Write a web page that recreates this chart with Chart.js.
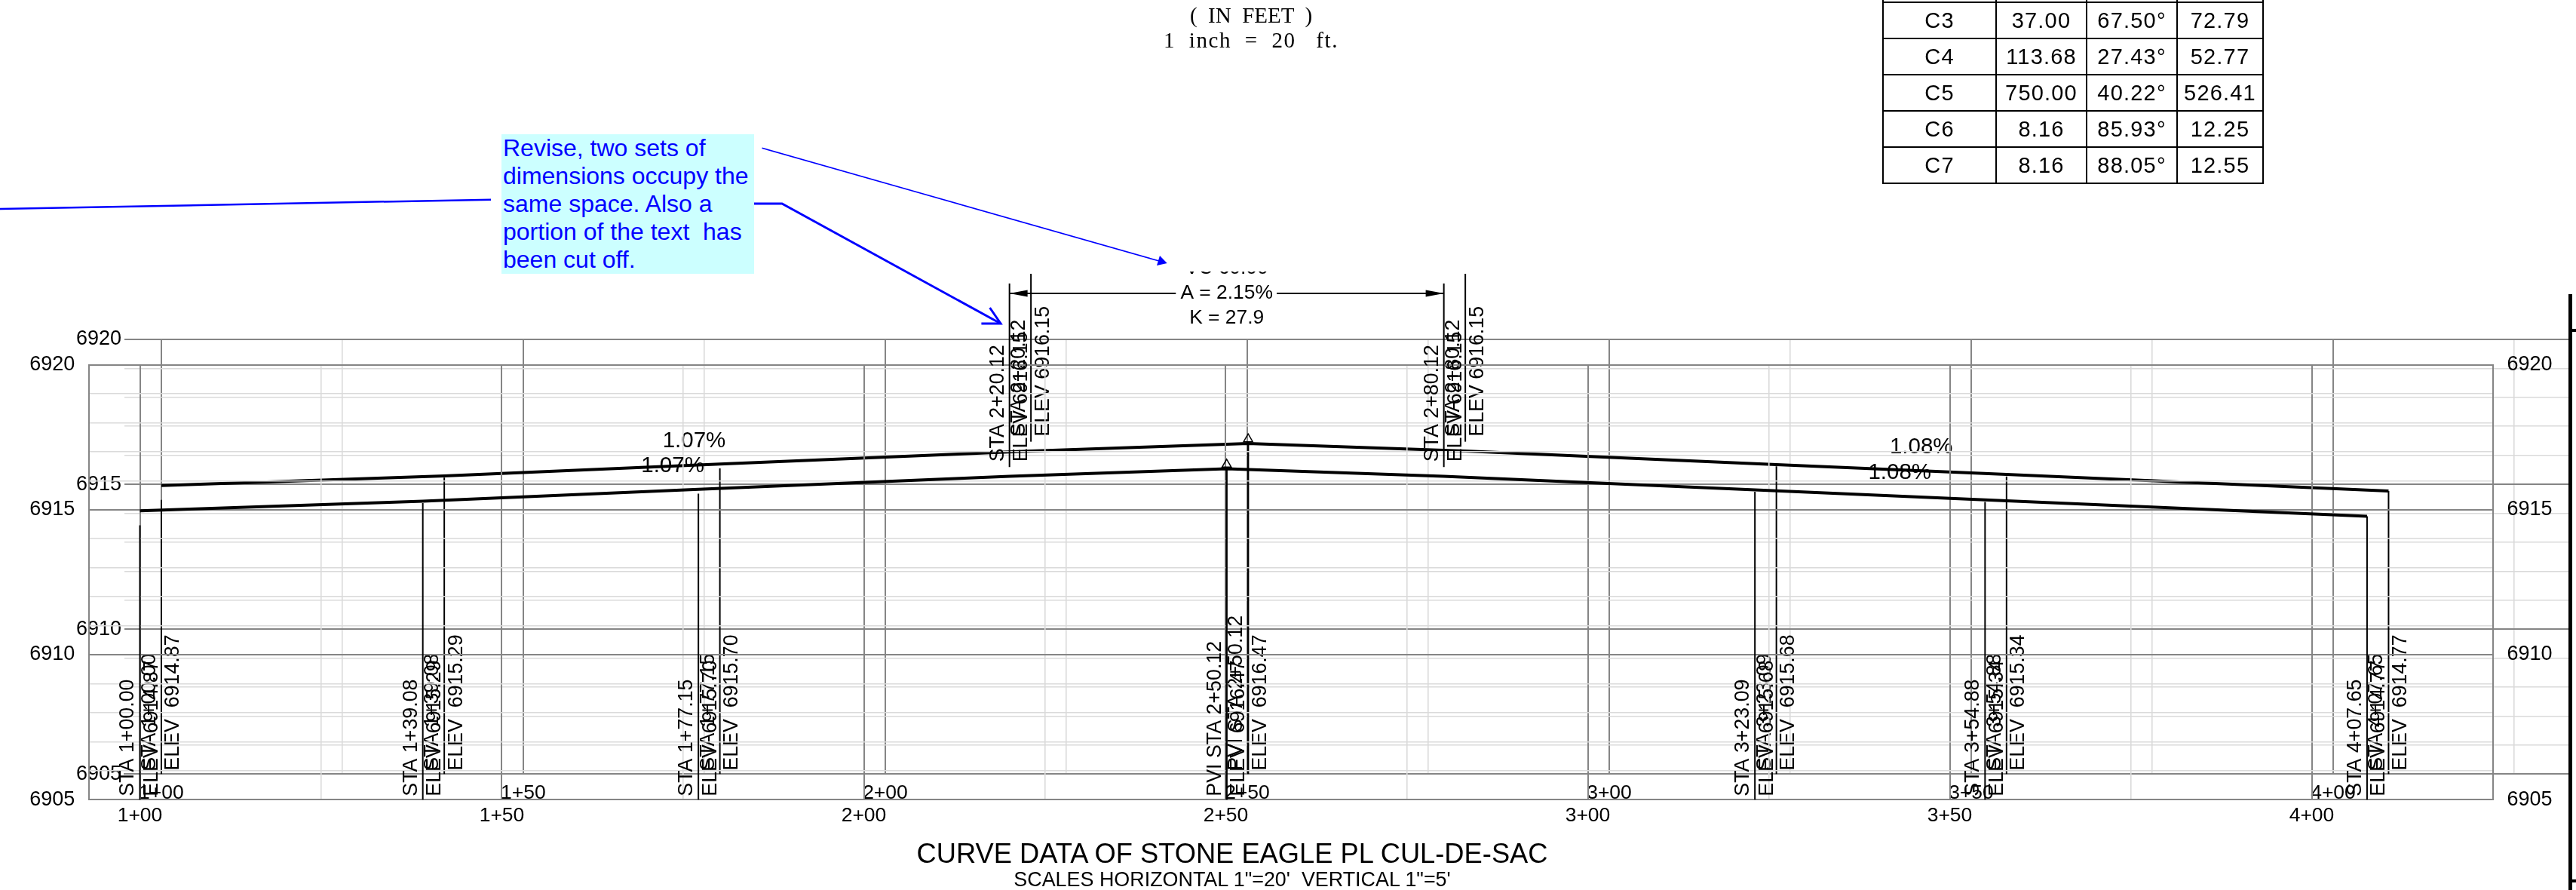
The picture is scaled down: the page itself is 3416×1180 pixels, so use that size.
<!DOCTYPE html>
<html>
<head>
<meta charset="utf-8">
<title>Curve data of Stone Eagle Pl Cul-de-sac</title>
<script src="https://cdn.jsdelivr.net/npm/chart.js@4/dist/chart.umd.min.js"></script>
<style>
    html, body { margin: 0; padding: 0; background: #fff; }
    body { position: relative; width: 3416px; height: 1180px; overflow: hidden; font-family: "Liberation Sans", Arial, sans-serif; color: #000; }
    canvas { position: absolute; left: 0; top: 0; }
    .scale-note { position: absolute; left: 1459px; width: 400px; text-align: center; font-family: "Liberation Serif", serif; font-size: 29px; white-space: pre; line-height: 30px; }
    .title { position: absolute; left: 1134px; width: 1000px; text-align: center; white-space: pre; }
    #callout { position: absolute; left: 665px; top: 178px; width: 333px; height: 185px; padding-left: 2px; background: #ccffff; color: #0000ff; font-size: 32px; line-height: 37px; white-space: pre; }
    #curveTable { position: absolute; left: 2496px; top: -46px; width: 504px; border-collapse: collapse; table-layout: fixed; font-size: 29px; letter-spacing: 1.2px; }
    #curveTable td { border: 2px solid #000; text-align: center; height: 46px; padding: 0; }
    #sheetEdge { position: absolute; left: 3406px; top: 390px; width: 5px; height: 790px; background: #000; }
    .edge-tick { position: absolute; left: 3411px; width: 5px; height: 4px; background: #000; }
    #markup { position: absolute; left: 0; top: 0; }
</style>
</head>
<body>
<canvas id="backChart" width="3416" height="1180"></canvas>
<canvas id="frontChart" width="3416" height="1180"></canvas>

<div class="scale-note" style="top:5px">(  IN  FEET  )</div>
<div class="scale-note" style="top:38px;letter-spacing:1.6px">1  inch  =  20   ft.</div>
<table id="curveTable"></table>
<div id="callout"></div>
<div class="title" style="top:1111px;font-size:36.3px;line-height:42px" id="mainTitle"></div>
<div class="title" style="top:1151px;font-size:26.9px;line-height:30px" id="subTitle"></div>
<div id="sheetEdge"></div>
<div class="edge-tick" style="top:436px"></div>
<div class="edge-tick" style="top:1166px"></div>

<!-- review markup, not part of the drawing data -->
<svg id="markup" width="3416" height="1180" fill="none" stroke="#0000ff">
    <line x1="0" y1="277" x2="651" y2="264.7" stroke-width="2.5"/>
    <polyline points="1000,270 1037,270 1327,429" stroke-width="3"/>
    <polyline points="1312.6,408 1327,429 1301.4,429" stroke-width="3"/>
    <line x1="1010.5" y1="196.3" x2="1537" y2="346" stroke-width="1.6"/>
    <polygon points="1547.7,349 1538,339 1534,352" fill="#0000ff" stroke="none"/>
</svg>

<script>
// profile data
const stations = [100.00, 139.08, 177.15, 220.12, 250.12, 280.12, 323.09, 354.88, 407.65];
const profileElev = [6914.96, 6915.29, 6915.70, 6916.15, 6916.41, 6916.15, 6915.68, 6915.34, 6914.77];
const staLabels = ['STA 1+00.00', 'STA 1+39.08', 'STA 1+77.15', 'STA 2+20.12', 'PVI STA 2+50.12', 'STA 2+80.12', 'STA 3+23.09', 'STA 3+54.88', 'STA 4+07.65'];
const elevLabels = ['ELEV  6914.87', 'ELEV  6915.29', 'ELEV  6915.70', 'ELEV 6916.15', 'ELEV  6916.47', 'ELEV 6916.15', 'ELEV  6915.68', 'ELEV  6915.34', 'ELEV  6914.77'];

// leaders run from leaderFrom to leaderTo (elevations), labels start at labelBase
const leaderFrom = [6905, 6905, 6905, 6916.47, 6905, 6916.47, 6905, 6905, 6905];
const leaderTo = [6914.46, 6915.23, 6915.55, 6922.80, 6916.41, 6922.80, 6915.62, 6915.27, 6914.77];
const labelBase = [6905.12, 6905.12, 6905.12, 6916.65, 6905.12, 6916.65, 6905.12, 6905.12, 6905.12];

// grades
const gradeText = ['1.07%', '1.08%'];
const gradeStation = [173.6, 343.1];
const gradeElev = [6916.50, 6916.28];

// vertical curve dimension
const curveText = ['VC 60.00', 'A = 2.15%', 'K = 27.9'];
const curveElev = [6923.32, 6922.46, 6921.61];
const dimStations = [220.12, 243.1, null, 257.04, 280.12];
const pviStation = 250.12;
const pviMarkElev = 6916.56;

// axes
const xTickValues = [100, 125, 150, 175, 200, 225, 250, 275, 300, 325, 350, 375, 400, 425];
const xTickText = ['1+00', '', '1+50', '', '2+00', '', '2+50', '', '3+00', '', '3+50', '', '4+00', ''];

// curve table (rows C1, C2 are off the sheet)
const tableNames = ['C3', 'C4', 'C5', 'C6', 'C7'];
const tableRadius = ['37.00', '113.68', '750.00', '8.16', '8.16'];
const tableDelta = ['67.50°', '27.43°', '40.22°', '85.93°', '88.05°'];
const tableLength = ['72.79', '52.77', '526.41', '12.25', '12.55'];

const calloutLines = ['Revise, two sets of', 'dimensions occupy the', 'same space. Also a', 'portion of the text  has', 'been cut off.'];

const GRID_MAJOR = '#858585';
const GRID_MINOR = '#dadada';
const CLIP_TOP_Y = 363; // leaders above this line are cut off in the drawing
const TEXT_CLIP_Y = 360; // and so is the VC text

// fill the html parts
document.getElementById('callout').textContent = calloutLines.join('\n');
document.getElementById('mainTitle').textContent = 'CURVE DATA OF STONE EAGLE PL CUL-DE-SAC';
document.getElementById('subTitle').textContent = 'SCALES HORIZONTAL 1"=20\'  VERTICAL 1"=5\'';

let tableHtml = '<colgroup><col style="width:150px"><col style="width:120px"><col style="width:120px"><col style="width:114px"></colgroup>';
tableHtml += '<tr><td></td><td></td><td></td><td></td></tr>';
tableNames.forEach((name, i) => {
    tableHtml += `<tr><td>${name}</td><td>${tableRadius[i]}</td><td>${tableDelta[i]}</td><td>${tableLength[i]}</td></tr>`;
});
document.getElementById('curveTable').innerHTML = tableHtml;

// texts and arrow heads that sit on the profile, placed through the chart scales
const profileLabels = {
    id: 'profileLabels',
    afterDatasetsDraw(chart, args, opts) {
        const ctx = chart.ctx;
        const xs = chart.scales.x;
        const ys = chart.scales.y;
        ctx.save();
        ctx.fillStyle = '#000';

        // station and elevation text, turned 90 degrees
        ctx.font = '26.8px "Liberation Sans"';
        ctx.textAlign = 'left';
        ctx.textBaseline = 'middle';
        stations.forEach((sta, i) => {
            const px = xs.getPixelForValue(sta);
            const py = ys.getPixelForValue(labelBase[i]);
            [[staLabels[i], -15.5], [elevLabels[i], 16]].forEach(([text, dx]) => {
                ctx.save();
                ctx.translate(px + dx, py);
                ctx.rotate(-Math.PI / 2);
                ctx.fillText(text, 0, 0);
                ctx.restore();
            });
        });

        // grades
        ctx.font = '29.5px "Liberation Sans"';
        ctx.textAlign = 'center';
        gradeText.forEach((text, i) => {
            ctx.fillText(text, xs.getPixelForValue(gradeStation[i]), ys.getPixelForValue(gradeElev[i]));
        });

        // curve dimension text and arrows only on the front copy
        if (opts.showCurve) {
            ctx.save();
            ctx.beginPath();
            ctx.rect(0, TEXT_CLIP_Y, chart.width, chart.height);
            ctx.clip();
            ctx.font = '26.4px "Liberation Sans"';
            curveText.forEach((text, i) => {
                ctx.fillText(text, xs.getPixelForValue(pviStation), ys.getPixelForValue(curveElev[i]));
            });
            ctx.restore();

            const dimY = ys.getPixelForValue(curveElev[1]);
            const ends = [[dimStations[0], 24], [dimStations[4], -24]];
            ends.forEach(([sta, len]) => {
                const px = xs.getPixelForValue(sta);
                ctx.beginPath();
                ctx.moveTo(px, dimY);
                ctx.lineTo(px + len, dimY - 4.5);
                ctx.lineTo(px + len, dimY + 4.5);
                ctx.closePath();
                ctx.fill();
            });
        }
        ctx.restore();
    }
};

function makeProfileChart(canvasId, setup) {
    const clip = { left: false, right: false, bottom: false, top: setup.top - CLIP_TOP_Y };
    const datasets = [];

    // profile line
    datasets.push({
        data: stations.map((s, i) => ({ x: s, y: profileElev[i] })),
        borderColor: '#000', borderWidth: 4, pointRadius: 0, tension: 0, clip: clip
    });

    // station leaders
    stations.forEach((s, i) => {
        datasets.push({
            data: [{ x: s, y: leaderFrom[i] }, { x: s, y: leaderTo[i] }],
            borderColor: '#000', borderWidth: s === pviStation ? 2.5 : 2, pointRadius: 0, clip: clip
        });
    });

    // PVI marker
    datasets.push({
        data: [{ x: pviStation, y: pviMarkElev }],
        showLine: false, pointStyle: 'triangle', pointRadius: 7,
        pointBackgroundColor: 'rgba(0,0,0,0)', pointBorderColor: '#000', pointBorderWidth: 1.5, clip: clip
    });

    // dimension line
    if (setup.showCurve) {
        datasets.push({
            data: dimStations.map(s => ({ x: s === null ? 250 : s, y: s === null ? null : curveElev[1] })),
            borderColor: '#000', borderWidth: 2, pointRadius: 0, spanGaps: false, clip: clip
        });
    }

    const scales = {
        x: {
            type: 'linear',
            min: setup.xMin,
            max: setup.xMax,
            afterBuildTicks: axis => { axis.ticks = xTickValues.filter(v => v <= setup.xMax).map(v => ({ value: v })); },
            afterFit: axis => { axis.height = 1180 - setup.bottom; },
            grid: {
                drawTicks: false,
                color: c => (c.tick && c.tick.value % 50 === 0 ? GRID_MAJOR : GRID_MINOR),
                lineWidth: c => (c.tick && c.tick.value % 50 === 0 ? 2 : 1.6)
            },
            border: { display: true, color: GRID_MAJOR, width: 2 },
            ticks: {
                color: '#000',
                font: { family: 'Liberation Sans', size: 26.5 },
                padding: setup.xPad,
                maxRotation: 0,
                autoSkip: false,
                callback: v => xTickText[xTickValues.indexOf(v)]
            }
        },
        y: {
            type: 'linear',
            position: 'left',
            min: 6905,
            max: 6920,
            afterFit: axis => { axis.width = setup.left; },
            grid: {
                drawTicks: false,
                color: c => (c.tick && c.tick.value % 5 === 0 ? GRID_MAJOR : GRID_MINOR),
                lineWidth: c => (c.tick && c.tick.value % 5 === 0 ? 2 : 1.6)
            },
            border: { display: setup.frame, color: GRID_MAJOR, width: 2 },
            ticks: {
                stepSize: 1,
                autoSkip: false,
                color: '#000',
                font: { family: 'Liberation Sans', size: 27 },
                padding: setup.yPad,
                callback: v => (v % 5 === 0 ? String(v) : '')
            }
        }
    };

    // the front copy also has elevations on the right
    if (setup.frame) {
        scales.yRight = {
            type: 'linear',
            position: 'right',
            min: 6905,
            max: 6920,
            afterFit: axis => { axis.width = 3416 - setup.right; },
            grid: { display: false, drawTicks: false },
            border: { display: true, color: GRID_MAJOR, width: 2 },
            ticks: {
                stepSize: 5,
                color: '#000',
                font: { family: 'Liberation Sans', size: 27 },
                padding: 19,
                callback: v => String(v)
            }
        };
    }

    return new Chart(document.getElementById(canvasId), {
        type: 'line',
        data: { datasets: datasets },
        options: {
            responsive: false,
            animation: false,
            devicePixelRatio: 1,
            parsing: true,
            layout: { padding: { top: setup.top, left: 0, bottom: 0, right: setup.frame ? 0 : 3416 - setup.right } },
            plugins: {
                legend: { display: false },
                tooltip: { enabled: false },
                profileLabels: { showCurve: setup.showCurve }
            },
            scales: scales
        },
        plugins: [profileLabels]
    });
}

// the sheet shows the same profile twice, the second copy shifted up and to the right
makeProfileChart('backChart', {
    left: 165, right: 3406, top: 450, bottom: 1026.3,
    xMin: 94.9, xMax: 432.5, xPad: 9, yPad: 4, frame: false, showCurve: false
});
makeProfileChart('frontChart', {
    left: 118.3, right: 3305.5, top: 483.5, bottom: 1060.3,
    xMin: 93, xMax: 425, xPad: 5, yPad: 19, frame: true, showCurve: true
});
</script>
</body>
</html>
